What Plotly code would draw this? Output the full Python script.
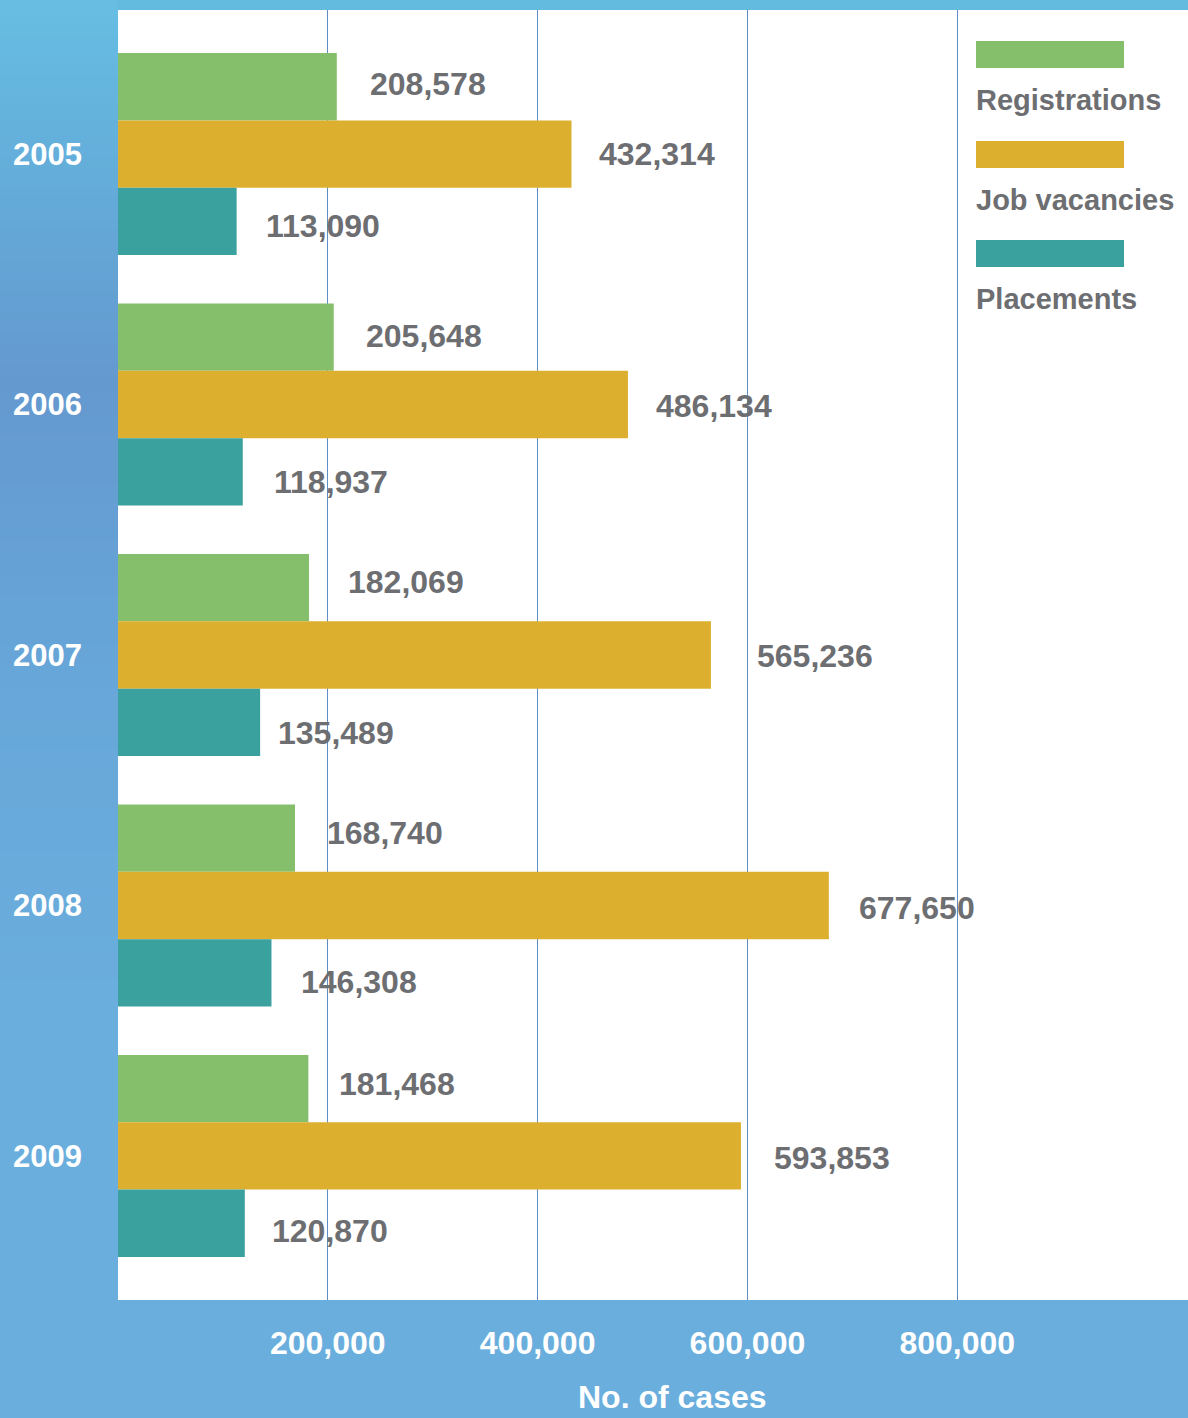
import plotly.graph_objects as go

# ---- data ----
years = ["2005", "2006", "2007", "2008", "2009"]
registrations = [208578, 205648, 182069, 168740, 181468]
job_vacancies = [432314, 486134, 565236, 677650, 593853]
placements = [113090, 118937, 135489, 146308, 120870]
x_ticks = [200000, 400000, 600000, 800000]
series_names = ["Registrations", "Job vacancies", "Placements"]

# ---- styling ----
W, H = 1188, 1418
M_L, M_R, M_T, M_B = 118, 0, 10, 118
PLOT_W = W - M_L - M_R
PLOT_H = H - M_T - M_B
FONT = "Liberation Sans"
GREY = "#6d6e71"
colors = ["#86bf6b", "#dcb02e", "#3aa19f"]
grid_blue = "#5f8dc6"

# hand placement of the value labels: gap after the bar end and vertical nudge (px)
label_xshift = [
    [31, 30, 37, 30, 29],
    [25, 26, 44, 28, 31],
    [27, 29, 16, 28, 25],
]
label_yshift = [
    [70, 69, 73, 72, 72],
    [0, -1, -1, -3, -2],
    [-72, -77, -78, -77, -75],
]

fig = go.Figure()
series = [registrations, job_vacancies, placements]
for name, vals, col in zip(series_names, series, colors):
    fig.add_trace(go.Bar(
        y=years, x=vals, orientation="h", name=name,
        marker=dict(color=col, line=dict(width=0)),
        showlegend=False, hoverinfo="x+name",
    ))

# value labels beside each bar (y given as the category index)
for vals, xs_row, ys_row in zip(series, label_xshift, label_yshift):
    for idx, v in enumerate(vals):
        fig.add_annotation(
            x=v, y=idx, xref="x", yref="y", text=f"{v:,}",
            xanchor="left", yanchor="middle", xshift=xs_row[idx], yshift=ys_row[idx],
            showarrow=False, font=dict(family=FONT, size=32, color=GREY, weight="bold"),
        )

def px_x(px):
    return (px - M_L) / PLOT_W

def px_y(py):
    return (H - M_B - py) / PLOT_H

def hex2rgb(h):
    h = h.lstrip("#")
    return [int(h[i:i + 2], 16) for i in (0, 2, 4)]

# gradient on the left strip
stops = [(0, "#67bee3"), (130, "#64b1dc"), (380, "#6499cf"),
         (700, "#67a7d9"), (1000, "#6aaedd"), (1418, "#6aaedd")]

def grad_color(py):
    for (a, ca), (b, cb) in zip(stops[:-1], stops[1:]):
        if a <= py <= b:
            t = (py - a) / (b - a)
            c1, c2 = hex2rgb(ca), hex2rgb(cb)
            r = [round(c1[i] + (c2[i] - c1[i]) * t) for i in range(3)]
            return "rgb(%d,%d,%d)" % tuple(r)
    return stops[-1][1]

shapes = []
step = 4
for py in range(0, H - M_B, step):
    shapes.append(dict(
        type="rect", xref="paper", yref="paper", layer="below",
        x0=px_x(0), x1=px_x(M_L), y0=px_y(py + step + 0.5), y1=px_y(py),
        fillcolor=grad_color(py + step / 2), line=dict(width=0),
    ))
# top band
shapes.append(dict(
    type="rect", xref="paper", yref="paper", layer="below",
    x0=px_x(M_L - 1), x1=px_x(W), y0=px_y(M_T), y1=px_y(0),
    fillcolor="#64bbe0", line=dict(width=0),
))

# legend: swatch with the name underneath
leg_x0, leg_x1 = 976, 1124
leg_tops = [41, 141, 240]
for name, col, top in zip(series_names, colors, leg_tops):
    shapes.append(dict(
        type="rect", xref="paper", yref="paper",
        x0=px_x(leg_x0), x1=px_x(leg_x1), y0=px_y(top + 27), y1=px_y(top),
        fillcolor=col, line=dict(width=0),
    ))
    fig.add_annotation(
        x=px_x(leg_x0 - 2), y=px_y(top + 59), xref="paper", yref="paper",
        text=name, xanchor="left", yanchor="middle", showarrow=False,
        font=dict(family=FONT, size=29, color=GREY, weight="bold"),
    )

# axis title
fig.add_annotation(
    x=px_x(672), y=px_y(H - 1), xref="paper", yref="paper",
    text="No. of cases", xanchor="center", yanchor="bottom", showarrow=False,
    font=dict(family=FONT, size=32, color="white", weight="bold"),
)

fig.update_layout(
    width=W, height=H,
    margin=dict(l=M_L, r=M_R, t=M_T, b=M_B, pad=0),
    paper_bgcolor="#6aaedd", plot_bgcolor="white",
    barmode="group", bargap=0.194, bargroupgap=0,
    shapes=shapes,
    font=dict(family=FONT),
)
fig.update_xaxes(
    range=[0, 1020000], tickvals=x_ticks, tickformat=",",
    showgrid=True, gridcolor=grid_blue, gridwidth=1,
    zeroline=False, showline=False, ticks="",
    tickfont=dict(family=FONT, size=32, color="white", weight="bold"),
    ticklabelstandoff=21,
)
fig.update_yaxes(
    type="category",
    range=[len(years) - 1 + 0.575, -0.575],
    showgrid=False, zeroline=False, showline=False, ticks="",
    tickfont=dict(family=FONT, size=31, color="white", weight="bold"),
    ticklabelstandoff=35,
)

fig.write_html("out.html")
